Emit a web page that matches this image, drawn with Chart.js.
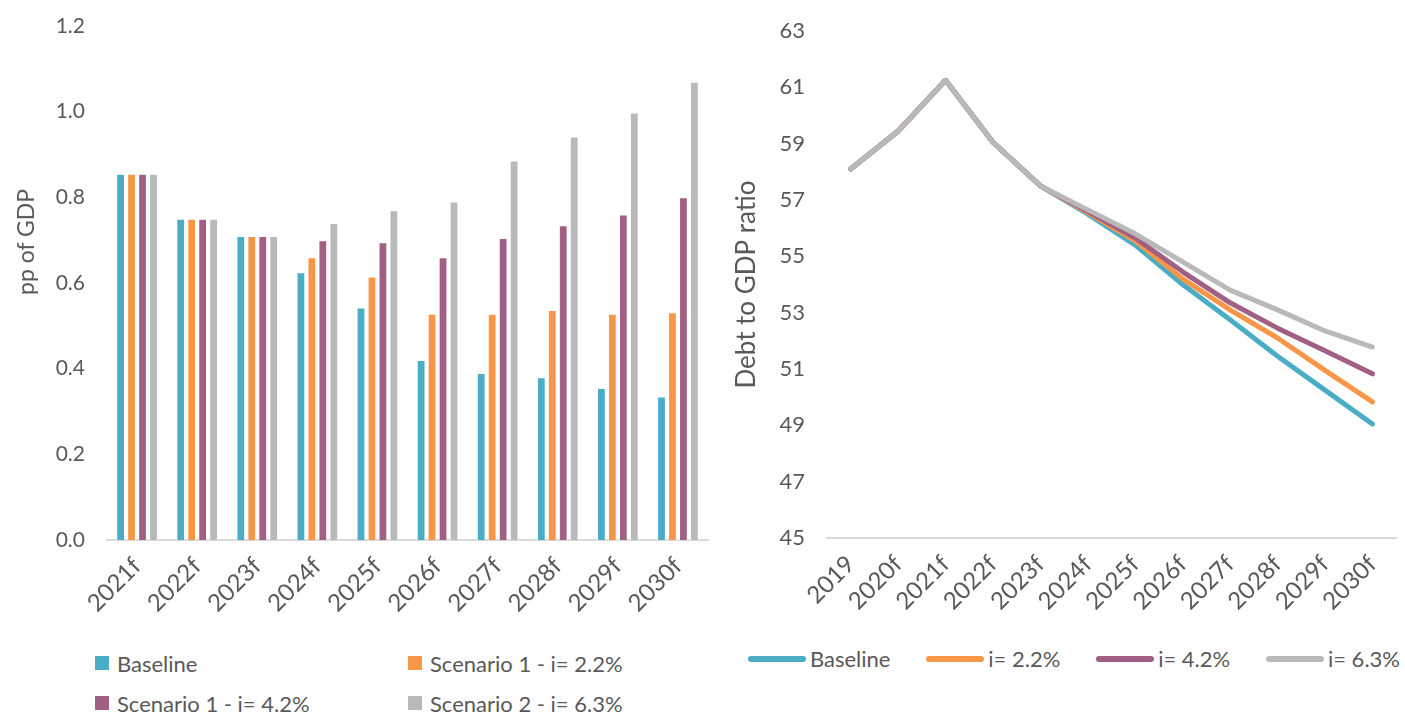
<!DOCTYPE html>
<html>
<head>
<meta charset="utf-8">
<script src="https://cdn.jsdelivr.net/npm/chart.js@4.4.1/dist/chart.umd.min.js"></script>
<style>
  html, body { margin: 0; padding: 0; background: #fff; }
  body { width: 1405px; height: 713px; position: relative; overflow: hidden; font-family: Lato, "Open Sans", sans-serif; color: #595959; }
  .box { position: absolute; }
  #left-wrap { left: 0; top: 0; width: 715px; height: 620px; }
  #right-wrap { left: 720px; top: 0; width: 685px; height: 620px; }
  #left-title {
    position: absolute; left: 25px; top: 242px; font-size: 23px; white-space: nowrap;
    transform: translate(-50%, -50%) rotate(-90deg);
  }
  #legend-left {
    position: absolute; left: 95px; top: 643px;
    display: grid; grid-template-columns: 313px 300px; grid-auto-rows: 40px;
    font-size: 22px;
  }
  #legend-left .item { display: flex; align-items: center; }
  #legend-left .swatch { width: 14px; height: 14px; margin-right: 8px; }
  #legend-right {
    position: absolute; left: 748px; width: 652px; top: 645px;
    display: flex; align-items: center; justify-content: space-between; font-size: 22px;
  }
  #legend-right .item { display: flex; align-items: center; }
  #legend-right .swatch { width: 58px; height: 6px; border-radius: 3px; margin-right: 4px; }
</style>
</head>
<body>
<div class="box" id="left-wrap"><canvas id="chart-cost"></canvas></div>
<div class="box" id="right-wrap"><canvas id="chart-debt"></canvas></div>
<div id="left-title">pp of GDP</div>
<div id="legend-left"></div>
<div id="legend-right"></div>
<script>
const Colors = {
  blue: "#4bacc6",
  orange: "#f79646",
  purple: "#a05f83",
  gray: "#b9b9b9",
  text: "#595959",
  axis: "#d9d9d9",
};

// left chart: interest cost, pp of GDP
const costYears = ["2021f", "2022f", "2023f", "2024f", "2025f", "2026f", "2027f", "2028f", "2029f", "2030f"];
const costBaseline = [0.855, 0.75, 0.71, 0.625, 0.543, 0.42, 0.39, 0.38, 0.355, 0.335];
const costS1Low = [0.855, 0.75, 0.71, 0.66, 0.615, 0.528, 0.528, 0.537, 0.528, 0.532];
const costS1High = [0.855, 0.75, 0.71, 0.70, 0.695, 0.66, 0.705, 0.735, 0.76, 0.80];
const costS2 = [0.855, 0.75, 0.71, 0.74, 0.77, 0.79, 0.886, 0.942, 0.998, 1.07];
const costLabels = ["Baseline", "Scenario 1 - i= 2.2%", "Scenario 1 - i= 4.2%", "Scenario 2 - i= 6.3%"];

// right chart: debt to GDP ratio
const debtYears = ["2019", "2020f", "2021f", "2022f", "2023f", "2024f", "2025f", "2026f", "2027f", "2028f", "2029f", "2030f"];
const debtBaseline = [58.1, 59.45, 61.25, 59.05, 57.5, 56.5, 55.4, 54.0, 52.75, 51.45, 50.25, 49.05];
const debtI22 = [58.1, 59.45, 61.25, 59.05, 57.5, 56.55, 55.55, 54.2, 53.1, 52.1, 50.95, 49.83];
const debtI42 = [58.1, 59.45, 61.25, 59.05, 57.5, 56.6, 55.65, 54.45, 53.35, 52.45, 51.65, 50.83];
const debtI63 = [58.1, 59.45, 61.25, 59.05, 57.5, 56.65, 55.8, 54.8, 53.8, 53.1, 52.35, 51.78];
const debtLabels = ["Baseline", "i= 2.2%", "i= 4.2%", "i= 6.3%"];

const seriesColors = [Colors.blue, Colors.orange, Colors.purple, Colors.gray];

Chart.defaults.font.family = "Lato, 'Open Sans', sans-serif";
Chart.defaults.color = Colors.text;

const tickFont = { size: 21 };
const xTickFont = { size: 24 };

function baseScales(yOpts, yTitle, axisY) {
  return {
    x: {
      offset: true,
      grid: { display: false, drawTicks: false },
      border: { display: true, color: Colors.axis, width: 2 },
      ticks: { font: xTickFont, color: Colors.text, maxRotation: 45, minRotation: 45, padding: 12, autoSkip: false },
      afterFit: s => { s.height = 620 - axisY; },
    },
    y: {
      ...yOpts,
      // tick length (hidden) gives the gap between labels and plot, so the top padding stays small
      grid: { display: false, drawTicks: true, tickLength: 22 },
      border: { display: false },
      title: yTitle,
      afterFit: s => { s.width = 107; },
    },
  };
}

function buildLegend(chart, elId) {
  const el = document.getElementById(elId);
  chart.data.datasets.forEach(ds => {
    const item = document.createElement("div");
    item.className = "item";
    const sw = document.createElement("span");
    sw.className = "swatch";
    sw.style.background = ds.legendColor;
    const tx = document.createElement("span");
    tx.textContent = ds.label;
    item.appendChild(sw);
    item.appendChild(tx);
    el.appendChild(item);
  });
}

const costChart = new Chart(document.getElementById("chart-cost"), {
  type: "bar",
  data: {
    labels: costYears,
    datasets: [costBaseline, costS1Low, costS1High, costS2].map((d, i) => ({
      label: costLabels[i],
      data: d,
      backgroundColor: seriesColors[i],
      borderColor: "#ffffff",
      borderWidth: 1,
      legendColor: seriesColors[i],
      categoryPercentage: 0.73,
      barPercentage: 0.8,
    })),
  },
  options: {
    responsive: true,
    maintainAspectRatio: false,
    animation: false,
    layout: { padding: { top: 26, right: 7, bottom: 0, left: 0 } },
    plugins: { legend: { display: false }, tooltip: { enabled: false } },
    scales: baseScales({
      min: 0, max: 1.2,
      ticks: { stepSize: 0.2, font: tickFont, color: Colors.text, padding: 0, callback: v => v.toFixed(1) },
    }, { display: false }, 540),
  },
});
buildLegend(costChart, "legend-left");

const debtChart = new Chart(document.getElementById("chart-debt"), {
  type: "line",
  data: {
    labels: debtYears,
    datasets: [debtBaseline, debtI22, debtI42, debtI63].map((d, i) => ({
      label: debtLabels[i],
      data: d,
      borderColor: seriesColors[i],
      backgroundColor: seriesColors[i],
      legendColor: seriesColors[i],
      borderWidth: 5,
      borderCapStyle: "round",
      borderJoinStyle: "round",
      pointRadius: 0,
      tension: 0,
      order: 3 - i,
    })),
  },
  options: {
    responsive: true,
    maintainAspectRatio: false,
    animation: false,
    layout: { padding: { top: 31, right: 5, bottom: 0, left: 0 } },
    plugins: { legend: { display: false }, tooltip: { enabled: false } },
    scales: baseScales({
      min: 45, max: 63,
      ticks: { stepSize: 2, font: { size: 22 }, color: Colors.text, padding: 0 },
    }, { display: true, text: "Debt to GDP ratio", font: { size: 26 }, color: Colors.text, padding: { top: 11, bottom: 0 } }, 538),
  },
});
buildLegend(debtChart, "legend-right");
</script>
</body>
</html>
